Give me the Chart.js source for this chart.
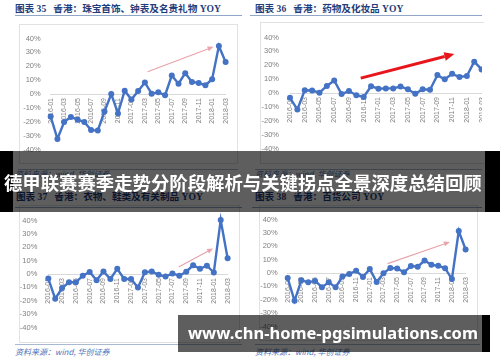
<!DOCTYPE html>
<html><head><meta charset="utf-8">
<script src="https://cdn.jsdelivr.net/npm/chart.js@4.4.1/dist/chart.umd.min.js"></script>
<style>
html,body{margin:0;padding:0;background:#fff;}
#root{position:relative;width:500px;height:362px;overflow:hidden;background:#fff;}
.box{position:absolute;border:1px solid #e2e2e2;box-sizing:border-box;}
.wrap{position:absolute;overflow:hidden;}
.wrap canvas{position:absolute;left:0;top:0;}
.title{position:absolute;font-family:"Liberation Serif","Noto Sans CJK SC",serif;font-weight:bold;font-size:9.6px;color:#1f3d7a;white-space:nowrap;line-height:1;}
.uline{position:absolute;height:1px;background:#8fa6c6;}
.sep{position:absolute;height:1px;background:#a9b9cf;}
.src{position:absolute;font-family:"Noto Sans CJK SC",sans-serif;font-size:8px;color:#4f72b8;font-style:italic;white-space:nowrap;line-height:1;}
.banner{position:absolute;background:rgba(0,0,0,0.63);}
.blk{position:absolute;background:#000;}
.btxt{position:absolute;color:#fff;font-weight:bold;white-space:nowrap;line-height:1;}
</style></head>
<body><div id="root">
<div class="box" style="left:19px;top:24px;width:219px;height:140px"></div>
<div class="box" style="left:260px;top:22px;width:224px;height:142px;border-right:none"></div>
<div class="box" style="left:19px;top:205px;width:221px;height:138px"></div>
<div class="box" style="left:259px;top:205px;width:219px;height:136px"></div>

<div class="wrap" style="left:19px;top:24px;width:219px;height:140px"><canvas id="c1" width="219" height="140"></canvas></div>
<div class="wrap" style="left:260px;top:22px;width:222px;height:142px"><canvas id="c2" width="240" height="142"></canvas></div>
<div class="wrap" style="left:19px;top:205px;width:221px;height:138px"><canvas id="c3" width="221" height="138"></canvas></div>
<div class="wrap" style="left:259px;top:205px;width:219px;height:136px"><canvas id="c4" width="219" height="136"></canvas></div>

<div class="title" id="t1" style="left:15px;top:4px"></div>
<div class="title" id="t2" style="left:255px;top:4px"></div>
<div class="title" id="t3" style="left:16px;top:192px"></div>
<div class="title" id="t4" style="left:255px;top:192px"></div>
<div class="uline" style="left:15px;top:15px;width:227px"></div>
<div class="uline" style="left:250px;top:15px;width:232px"></div>
<div class="uline" style="left:15px;top:207px;width:227px"></div>
<div class="uline" style="left:252px;top:207px;width:230px"></div>
<div class="sep" style="left:18px;top:169px;width:220px"></div>
<div class="sep" style="left:255px;top:169px;width:227px"></div>
<div class="sep" style="left:15px;top:344px;width:227px"></div>
<div class="sep" style="left:255px;top:344px;width:225px"></div>
<div class="src" id="s1" style="left:15px;top:170px"></div>
<div class="src" id="s2" style="left:255px;top:170px"></div>
<div class="src" id="s3" style="left:15px;top:348px"></div>
<div class="src" id="s4" style="left:255px;top:348px"></div>

<div class="banner" style="left:0;top:151px;width:500px;height:61px"></div>
<div class="blk" style="left:0;top:151px;width:13px;height:61px"></div>
<div class="blk" style="left:485px;top:151px;width:15px;height:61px"></div>
<div class="btxt" id="bt1" style="left:4px;top:173px;font-family:'Noto Sans CJK SC',sans-serif;font-size:18.4px"></div>

<div class="banner" style="left:178px;top:315px;width:304px;height:37px"></div>
<div class="blk" style="left:482px;top:315px;width:8px;height:37px"></div>
<div class="btxt" id="bt2" style="left:188px;top:325px;font-family:'Noto Sans','Open Sans',sans-serif;font-size:18px"></div>
</div>
<script>
// ---- data ----
const months = ['2016-01','2016-02','2016-03','2016-04','2016-05','2016-06','2016-07','2016-08','2016-09','2016-10','2016-11','2016-12',
  '2017-01','2017-02','2017-03','2017-04','2017-05','2017-06','2017-07','2017-08','2017-09','2017-10','2017-11','2017-12',
  '2018-01','2018-02','2018-03'];
const jewelryYoY = [-16.3,-32.4,-20.2,-16.5,-18.5,-20.2,-26.0,-26.3,-12.6,0.0,-14.0,2.4,-4.0,2.2,8.3,0.2,1.3,-0.9,13.3,7.4,15.0,8.7,8.0,6.3,10.7,34.6,23.0];
const drugsYoY = [-3.5,-11.9,2.0,1.8,0.2,5.1,9.0,-0.8,1.4,-1.6,-2.9,4.9,3.1,3.3,3.3,4.7,2.7,-0.6,2.7,2.3,12.9,9.9,13.8,11.5,12.3,22.6,17.0];
const clothingYoY = [-3.4,-18.5,-10.5,-6.2,-6.2,-1.3,1.5,-4.7,1.9,-3.7,3.9,-3.7,-3.7,-10.1,1.3,1.9,-0.6,-1.9,0.4,-1.3,1.7,6.5,3.9,6.2,1.1,40.4,11.8];
const deptStoreYoY = [-3.8,-20.8,-5.4,-7.0,-5.9,-10.6,-7.0,-10.6,-2.7,-0.7,1.6,-2.9,2.9,-6.8,-0.2,3.8,3.4,0.5,5.2,4.7,9.3,6.1,5.4,3.6,-4.5,31.4,17.6];
const yTickValues = [-40,-30,-20,-10,0,10,20,30,40];
// trend arrows: [from [categoryIndex, %], to [categoryIndex, %]]
const jewelryArrow = [[14.4,16],[24.2,34]];
const drugsArrow = [[9.6,10.7],[22.3,28.1]];
const clothingArrow = [[18.9,5.2],[23.9,19.1]];
const deptStoreArrow = [[14.6,7.0],[23.7,23.2]];
const titles = ['图表 35\u2002 香港：珠宝首饰、钟表及名贵礼物 YOY','图表 36\u2002 香港：药物及化妆品 YOY','图表 37\u2002 香港：衣物、鞋类及有关制品 YOY','图表 38\u2002 香港：百货公司 YOY'];
const sourceText = '资料来源：wind, 华创证券';
const bannerText = '德甲联赛赛季走势分阶段解析与关键拐点全景深度总结回顾';
const urlText = 'www.chn-home-pgsimulations.com';

// ---- text ----
['t1','t2','t3','t4'].forEach((id,i)=>document.getElementById(id).textContent = titles[i]);
['s1','s2','s3','s4'].forEach(id=>document.getElementById(id).textContent = sourceText);
const b1 = document.getElementById('bt1'); b1.textContent = bannerText;
const b2 = document.getElementById('bt2'); b2.textContent = urlText;
function fitW(el, w){ const cur = el.getBoundingClientRect().width; const fs = parseFloat(el.style.fontSize); el.style.fontSize = (fs*w/cur)+'px'; }
fitW(b1, 478); fitW(b2, 290);

// ---- charts ----
const LINE = '#4472c4';
const arrowPlugin = {
  id: 'trendArrow',
  afterDatasetsDraw(chart, args, o) {
    const xs = chart.scales.x, ys = chart.scales.y, ctx = chart.ctx;
    const x1 = xs.getPixelForValue(o.pts[0][0]), y1 = ys.getPixelForValue(o.pts[0][1]);
    const x2 = xs.getPixelForValue(o.pts[1][0]), y2 = ys.getPixelForValue(o.pts[1][1]);
    const ang = Math.atan2(y2-y1, x2-x1);
    const bx = x2 - o.head*Math.cos(ang), by = y2 - o.head*Math.sin(ang);
    ctx.save();
    ctx.strokeStyle = o.color; ctx.fillStyle = o.color; ctx.lineWidth = o.width; ctx.lineCap='butt';
    ctx.beginPath(); ctx.moveTo(x1,y1); ctx.lineTo(bx,by); ctx.stroke();
    const px = -Math.sin(ang)*o.headW/2, py = Math.cos(ang)*o.headW/2;
    ctx.beginPath(); ctx.moveTo(x2,y2); ctx.lineTo(bx+px,by+py); ctx.lineTo(bx-px,by-py); ctx.closePath(); ctx.fill();
    ctx.restore();
  }
};
function makeChart(id, values, arrow, arrowStyle, box, area, gap) {
  const cv = document.getElementById(id);
  const W = cv.width, H = cv.height;
  new Chart(cv, {
    type: 'line',
    data: { labels: months, datasets: [{ data: values, borderColor: LINE, backgroundColor: LINE, borderWidth: 2.4,
      pointRadius: 3, pointHoverRadius: 3, pointBorderWidth: 0, tension: 0, clip: false }] },
    options: {
      responsive: false, animation: false, devicePixelRatio: 1, events: [],
      layout: { padding: { left: 0, top: area.t - box.t, right: W - (area.r - box.l), bottom: H - (area.b - box.t) } },
      plugins: { legend: { display: false }, tooltip: { enabled: false },
        trendArrow: Object.assign({ pts: arrow }, arrowStyle) },
      scales: {
        x: { type: 'category', position: { y: 0 }, grid: { display: false, drawTicks: false },
          border: { display: true, color: '#d9d9d9', width: 1 },
          ticks: { autoSkip: false, minRotation: 90, maxRotation: 90, padding: 4, color: '#7f7f7f',
            font: { size: 7, family: 'Liberation Sans' },
            callback: function(v, i) { return i % 2 === 0 ? this.getLabelForValue(v) : ''; } } },
        y: { min: -40, max: 40, grid: { display: false, drawTicks: false }, border: { display: false },
          afterFit: s => { s.width = area.l - box.l; },
          afterBuildTicks: s => { s.ticks = yTickValues.map(v => ({ value: v })); },
          ticks: { padding: gap, color: '#7f7f7f', font: { size: 7.5, family: 'Liberation Sans' }, callback: v => v + '%' } }
      }
    },
    plugins: [arrowPlugin]
  });
}
const pink = { color: '#e8a3ab', width: 1.2, head: 6, headW: 5 };
const red = { color: '#e8161c', width: 3, head: 10, headW: 9 };
makeChart('c1', jewelryYoY, jewelryArrow, pink, { l: 19, t: 24 }, { l: 50.7, r: 227, t: 33.5, b: 157.1 }, 10);
makeChart('c2', drugsYoY, drugsArrow, red, { l: 260, t: 22 }, { l: 290, r: 481.6, t: 28.3, b: 157.3 }, 11);
makeChart('c3', clothingYoY, clothingArrow, pink, { l: 19, t: 205 }, { l: 48.3, r: 233.3, t: 213.3, b: 337.3 }, 11);
makeChart('c4', deptStoreYoY, deptStoreArrow, pink, { l: 259, t: 205 }, { l: 287.7, r: 466, t: 215, b: 333.2 }, 10);
</script>
</body></html>
